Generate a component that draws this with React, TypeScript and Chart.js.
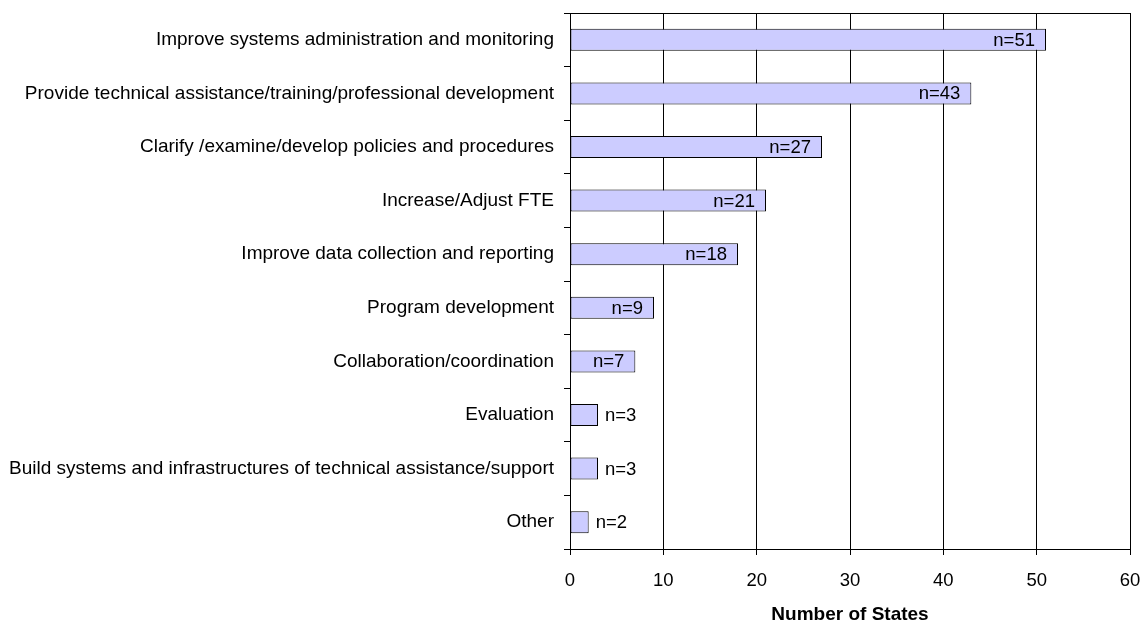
import React, { useEffect, useRef } from "react";
import { Chart, registerables } from "chart.js";

Chart.register(...registerables);

const categories: string[] = [
  "Improve systems administration and monitoring",
  "Provide technical assistance/training/professional development",
  "Clarify /examine/develop policies and procedures",
  "Increase/Adjust FTE",
  "Improve data collection and reporting",
  "Program development",
  "Collaboration/coordination",
  "Evaluation",
  "Build systems and infrastructures of technical assistance/support",
  "Other",
];

const stateCounts: number[] = [51, 43, 27, 21, 18, 9, 7, 3, 3, 2];

const xTicks: number[] = [0, 10, 20, 30, 40, 50, 60];

const axisTitle = "Number of States";

const FONT = "'Liberation Sans', Arial, sans-serif";

const frame = {
  id: "frame",
  afterDraw(chart: any) {
    const { ctx, chartArea } = chart;
    ctx.save();
    ctx.strokeStyle = "#000";
    ctx.lineWidth = 1;
    ctx.strokeRect(
      Math.round(chartArea.left) + 0.5,
      Math.round(chartArea.top) + 0.5,
      Math.round(chartArea.right - chartArea.left),
      Math.round(chartArea.bottom - chartArea.top)
    );
    ctx.restore();
  },
};

const valueLabels = {
  id: "valueLabels",
  afterDatasetsDraw(chart: any) {
    const { ctx } = chart;
    const meta = chart.getDatasetMeta(0);
    ctx.save();
    ctx.font = `18.5px ${FONT}`;
    ctx.fillStyle = "#000";
    ctx.textBaseline = "middle";
    meta.data.forEach((bar: any, i: number) => {
      const v = stateCounts[i];
      const text = `n=${v}`;
      if (v >= 5) {
        ctx.textAlign = "right";
        ctx.fillText(text, bar.x - 11, bar.y + 1);
      } else {
        ctx.textAlign = "left";
        ctx.fillText(text, bar.x + 7, bar.y + 1);
      }
    });
    ctx.restore();
  },
};

export default function App() {
  const ref = useRef<HTMLCanvasElement | null>(null);

  useEffect(() => {
    if (!ref.current) return;
    const chart = new Chart(ref.current, {
      type: "bar",
      data: {
        labels: categories,
        datasets: [
          {
            data: stateCounts,
            backgroundColor: "#ccccff",
            borderColor: "#000",
            borderWidth: 1,
            borderSkipped: false,
            barPercentage: 0.41,
            categoryPercentage: 1,
          },
        ],
      },
      options: {
        indexAxis: "y",
        animation: false,
        responsive: false,
        maintainAspectRatio: false,
        layout: { padding: { top: 13, right: 18, bottom: 0, left: 0 } },
        plugins: {
          legend: { display: false },
          tooltip: { enabled: false },
        },
        scales: {
          x: {
            min: xTicks[0],
            max: xTicks[xTicks.length - 1],
            afterBuildTicks(scale: any) {
              scale.ticks = xTicks.map((v) => ({ value: v }));
            },
            afterFit(scale: any) {
              scale.height = 75;
              scale.paddingLeft = 0;
              scale.paddingRight = 0;
            },
            grid: {
              color: "#000",
              lineWidth: 1,
              tickLength: 6,
              drawTicks: true,
            },
            border: { color: "#000", width: 1 },
            ticks: {
              color: "#000",
              font: { family: FONT, size: 18.5 },
              padding: 15,
              maxRotation: 0,
            },
            title: {
              display: true,
              text: axisTitle,
              color: "#000",
              font: { family: FONT, size: 19, weight: "bold" },
              padding: { top: 0, bottom: -2 },
            },
          },
          y: {
            afterFit(scale: any) {
              scale.width = 570;
              scale.paddingTop = 0;
              scale.paddingBottom = 0;
            },
            grid: {
              drawOnChartArea: false,
              drawTicks: true,
              tickLength: 6,
              offset: true,
              color: "#000",
            },
            border: { color: "#000", width: 1 },
            ticks: {
              color: "#000",
              font: { family: FONT, size: 19 },
              padding: 10,
              autoSkip: false,
            },
          },
        },
      },
      plugins: [valueLabels, frame],
    });
    return () => chart.destroy();
  }, []);

  return (
    <div style={{ position: "fixed", left: 0, top: 0, width: 1148, height: 624, background: "#fff" }}>
      <canvas ref={ref} width={1148} height={624} style={{ width: 1148, height: 624 }} />
    </div>
  );
}
